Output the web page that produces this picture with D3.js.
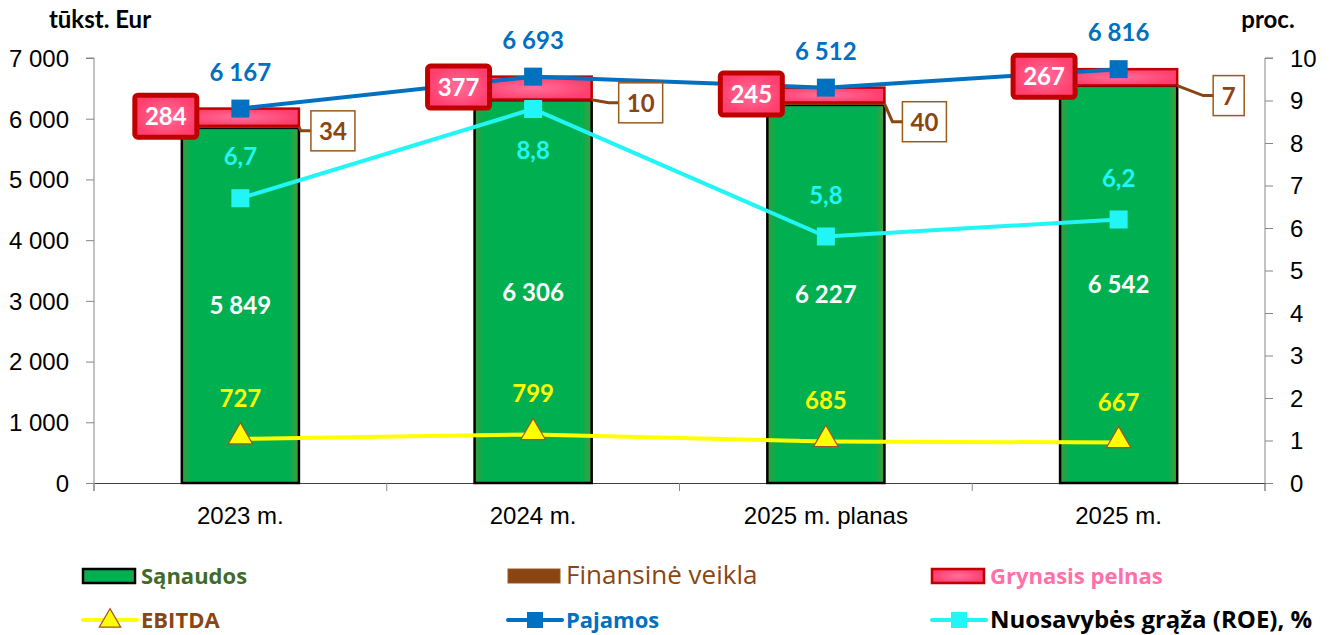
<!DOCTYPE html>
<html>
<head>
<meta charset="utf-8">
<script src="https://cdn.jsdelivr.net/npm/d3@7"></script>
<style>
  body { margin: 0; background: #fff; }
  svg { font-family: Lato, "Open Sans", sans-serif; }
</style>
</head>
<body>
<div id="chart"></div>
<script>
// data
const categories = ["2023 m.", "2024 m.", "2025 m. planas", "2025 m."];
const sanaudos = [5849, 6306, 6227, 6542];
const finansine = [34, 10, 40, 7];
const pelnas = [284, 377, 245, 267];
const pajamos = [6167, 6693, 6512, 6816];
const ebitda = [727, 799, 685, 667];
const roe = [6.7, 8.8, 5.8, 6.2];
const leftTicks = [0, 1000, 2000, 3000, 4000, 5000, 6000, 7000];
const rightTicks = [0, 1, 2, 3, 4, 5, 6, 7, 8, 9, 10];

// manual label nudges (layout only)
const finLabelShift = [[12, 4], [27, 3], [18, 18], [36, 10]];
const roeLabelBelow = [false, true, false, false];

const W = 1331, H = 635;
const margin = { top: 58, right: 66, bottom: 152, left: 94 };
const width = W - margin.left - margin.right;
const height = H - margin.top - margin.bottom;

const fmt = v => d3.format(",")(v).replace(/,/g, " ");
const fmtDec = v => String(v).replace(".", ",");

const svg = d3.select("#chart").append("svg")
  .attr("width", W).attr("height", H);

const defs = svg.append("defs");
const gGreen = defs.append("linearGradient").attr("id", "gGreen");
gGreen.append("stop").attr("offset", "0%").attr("stop-color", "#3c9a3c");
gGreen.append("stop").attr("offset", "8%").attr("stop-color", "#00b050");
gGreen.append("stop").attr("offset", "92%").attr("stop-color", "#00b050");
gGreen.append("stop").attr("offset", "100%").attr("stop-color", "#4f9a3a");
const gPink = defs.append("radialGradient").attr("id", "gPink");
gPink.append("stop").attr("offset", "0%").attr("stop-color", "#ff6f9c");
gPink.append("stop").attr("offset", "100%").attr("stop-color", "#ff3f6e");

const g = svg.append("g").attr("transform", `translate(${margin.left},${margin.top})`);

const x = d3.scaleBand().domain(categories).range([0, width]).paddingInner(0).paddingOuter(0);
const y = d3.scaleLinear().domain([0, 7000]).range([height, 0]);
const y2 = d3.scaleLinear().domain([0, 10]).range([height, 0]);
const bw = x.bandwidth() * 0.4;
const cx = c => x(c) + x.bandwidth() / 2;

// axes
const axisColor = "#868686";
const yAxis = g.append("g")
  .call(d3.axisLeft(y).tickValues(leftTicks).tickSize(8).tickSizeOuter(8).tickFormat(fmt));
yAxis.select(".domain").attr("stroke", axisColor).attr("d", `M-8,0H0V${height + 8}`);
yAxis.selectAll(".tick line").attr("stroke", axisColor);
yAxis.selectAll("text").attr("font-size", 24).attr("fill", "#000").attr("x", -25).attr("dy", "0.35em");

const y2Axis = g.append("g").attr("transform", `translate(${width},0)`)
  .call(d3.axisRight(y2).tickValues(rightTicks).tickSize(8).tickSizeOuter(8));
y2Axis.select(".domain").attr("stroke", axisColor).attr("d", `M8,0H0V${height + 8}`);
y2Axis.selectAll(".tick line").attr("stroke", axisColor);
y2Axis.selectAll("text").attr("font-size", 24).attr("fill", "#000").attr("x", 25).attr("dy", "0.35em");

const xAxis = g.append("g").attr("transform", `translate(0,${height})`)
  .call(d3.axisBottom(x).tickSize(0).tickPadding(22));
xAxis.select(".domain").attr("stroke", "#404040").attr("stroke-width", 1.2);
xAxis.selectAll("text").attr("font-size", 24).attr("fill", "#000").attr("dy", "0.8em");
xAxis.selectAll(".sep").data(d3.range(categories.length + 1)).join("line")
  .attr("x1", i => i * x.bandwidth()).attr("x2", i => i * x.bandwidth())
  .attr("y1", 0).attr("y2", 8).attr("stroke", axisColor);

// axis titles
svg.append("text").attr("x", 100).attr("y", 28).attr("text-anchor", "middle")
  .attr("font-size", 24).attr("font-weight", "bold").text("tūkst. Eur");
svg.append("text").attr("x", 1268).attr("y", 28).attr("text-anchor", "middle")
  .attr("font-size", 24).attr("font-weight", "bold").text("proc.");

// bars
const bars = g.append("g");
categories.forEach((c, i) => {
  const x0 = cx(c) - bw / 2;
  const s0 = sanaudos[i], f0 = s0 + finansine[i], p0 = f0 + pelnas[i];
  bars.append("rect").attr("x", x0).attr("y", y(s0)).attr("width", bw).attr("height", y(0) - y(s0))
    .attr("fill", "url(#gGreen)").attr("stroke", "#000").attr("stroke-width", 2.5);
  bars.append("rect").attr("x", x0).attr("y", y(f0)).attr("width", bw).attr("height", y(s0) - y(f0))
    .attr("fill", "#8b4513");
  bars.append("rect").attr("x", x0).attr("y", y(p0)).attr("width", bw).attr("height", y(f0) - y(p0))
    .attr("fill", "url(#gPink)").attr("stroke", "#c00000").attr("stroke-width", 2.5);
});

// lines
const lineL = d3.line().x((d, i) => cx(categories[i])).y(d => y(d));
const lineR = d3.line().x((d, i) => cx(categories[i])).y(d => y2(d));

g.append("path").datum(ebitda).attr("d", lineL).attr("fill", "none")
  .attr("stroke", "#ffff00").attr("stroke-width", 4);
g.append("path").datum(roe).attr("d", lineR).attr("fill", "none")
  .attr("stroke", "#22f5f5").attr("stroke-width", 4);
g.append("path").datum(pajamos).attr("d", lineL).attr("fill", "none")
  .attr("stroke", "#0070c0").attr("stroke-width", 4);

const tri = d3.symbol().type(d3.symbolTriangle).size(260);
g.selectAll(".ebm").data(ebitda).join("path")
  .attr("transform", (d, i) => `translate(${cx(categories[i])},${y(d) - 2})`)
  .attr("d", tri).attr("fill", "#ffff00").attr("stroke", "#a0522d").attr("stroke-width", 1.2);
g.selectAll(".roem").data(roe).join("rect")
  .attr("x", (d, i) => cx(categories[i]) - 9).attr("y", d => y2(d) - 9)
  .attr("width", 18).attr("height", 18).attr("fill", "#22f5f5");
g.selectAll(".pajm").data(pajamos).join("rect")
  .attr("x", (d, i) => cx(categories[i]) - 9).attr("y", d => y(d) - 9)
  .attr("width", 18).attr("height", 18).attr("fill", "#0070c0");

// value labels
const lbl = g.append("g").attr("font-weight", "bold").attr("font-size", 24).attr("text-anchor", "middle");
categories.forEach((c, i) => {
  const xc = cx(c);
  lbl.append("text").attr("x", xc).attr("y", y(pajamos[i]) - 28).attr("fill", "#0070c0").text(fmt(pajamos[i]));
  lbl.append("text").attr("x", xc).attr("y", y2(roe[i]) + (roeLabelBelow[i] ? 50 : -33))
    .attr("fill", "#22f5f5").text(fmtDec(roe[i]));
  lbl.append("text").attr("x", xc).attr("y", y(ebitda[i]) - 32).attr("fill", "#ffff00").text(fmt(ebitda[i]));
  lbl.append("text").attr("x", xc).attr("y", (y(sanaudos[i]) + y(0)) / 2 + 9).attr("fill", "#fff").text(fmt(sanaudos[i]));

  // grynasis pelnas box
  const f0 = sanaudos[i] + finansine[i];
  const pc = (y(f0) + y(f0 + pelnas[i])) / 2 - 1;
  const bxc = xc - bw / 2 - 16;
  lbl.append("rect").attr("x", bxc - 31).attr("y", pc - 21).attr("width", 62).attr("height", 42)
    .attr("rx", 3).attr("fill", "url(#gPink)").attr("stroke", "#c00000").attr("stroke-width", 5);
  lbl.append("text").attr("x", bxc).attr("y", pc + 9).attr("fill", "#fff").text(pelnas[i]);

  // finansine veikla box with leader
  const fy = y(sanaudos[i] + finansine[i] / 2);
  const [dx, dy] = finLabelShift[i];
  const tw = String(finansine[i]).length * 13 + 18;
  const bx = xc + bw / 2 + dx;
  const by = fy + dy;
  lbl.append("path").attr("d", `M${xc + bw / 2},${fy}L${bx - 10},${by}L${bx},${by}`)
    .attr("fill", "none").attr("stroke", "#8b4513").attr("stroke-width", 3);
  lbl.append("rect").attr("x", bx).attr("y", by - 20).attr("width", tw).attr("height", 40)
    .attr("fill", "#fff").attr("stroke", "#995a1a").attr("stroke-width", 1.5);
  lbl.append("text").attr("x", bx + tw / 2).attr("y", by + 9).attr("fill", "#8b4513").text(finansine[i]);
});

// legend
const legend = svg.append("g").attr("font-size", 22).attr("font-weight", "bold")
  .attr("font-family", "'Open Sans', sans-serif");
const cols = [83, 508, 932];
const rows = [576, 620];
function legText(xp, yp, t, col, weight, size) {
  legend.append("text").attr("x", xp + 58).attr("y", yp + 8).attr("fill", col)
    .attr("font-weight", weight || "bold").attr("font-size", size || 22).text(t);
}
legend.append("rect").attr("x", cols[0]).attr("y", rows[0] - 7).attr("width", 52).attr("height", 14)
  .attr("fill", "url(#gGreen)").attr("stroke", "#000").attr("stroke-width", 2.5);
legText(cols[0], rows[0], "Sąnaudos", "#3f6b2a");
legend.append("rect").attr("x", cols[1]).attr("y", rows[0] - 7).attr("width", 52).attr("height", 14)
  .attr("fill", "#8b4513").attr("stroke", "#9a5a20").attr("stroke-width", 1);
legText(cols[1], rows[0], "Finansinė veikla", "#8b4513", "normal", 26);
legend.append("rect").attr("x", cols[2]).attr("y", rows[0] - 7).attr("width", 52).attr("height", 14)
  .attr("fill", "url(#gPink)").attr("stroke", "#c00000").attr("stroke-width", 2.5);
legText(cols[2], rows[0], "Grynasis pelnas", "#ff6fa8");

legend.append("line").attr("x1", cols[0]).attr("x2", cols[0] + 54).attr("y1", rows[1]).attr("y2", rows[1])
  .attr("stroke", "#ffff00").attr("stroke-width", 4).attr("stroke-linecap", "round");
legend.append("path").attr("transform", `translate(${cols[0] + 27},${rows[1] + 1})`)
  .attr("d", d3.symbol().type(d3.symbolTriangle).size(200)).attr("fill", "#ffff00")
  .attr("stroke", "#a0522d").attr("stroke-width", 1.2);
legText(cols[0], rows[1], "EBITDA", "#8b4513");
legend.append("line").attr("x1", cols[1]).attr("x2", cols[1] + 54).attr("y1", rows[1]).attr("y2", rows[1])
  .attr("stroke", "#0070c0").attr("stroke-width", 4).attr("stroke-linecap", "round");
legend.append("rect").attr("x", cols[1] + 19).attr("y", rows[1] - 8).attr("width", 16).attr("height", 16)
  .attr("fill", "#0070c0");
legText(cols[1], rows[1], "Pajamos", "#0070c0");
legend.append("line").attr("x1", cols[2]).attr("x2", cols[2] + 54).attr("y1", rows[1]).attr("y2", rows[1])
  .attr("stroke", "#22f5f5").attr("stroke-width", 4).attr("stroke-linecap", "round");
legend.append("rect").attr("x", cols[2] + 19).attr("y", rows[1] - 8).attr("width", 16).attr("height", 16)
  .attr("fill", "#22f5f5");
legText(cols[2], rows[1], "Nuosavybės grąža (ROE), %", "#000", "bold", 24);
</script>
</body>
</html>
